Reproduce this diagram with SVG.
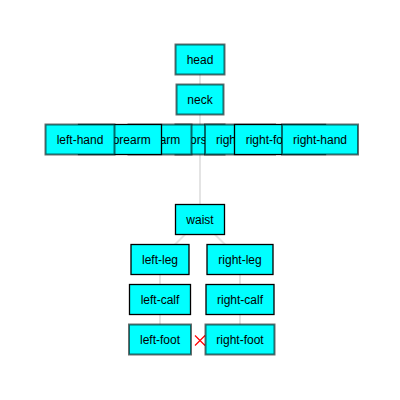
<svg xmlns="http://www.w3.org/2000/svg" width="400" height="400" viewBox="0 0 400 400">
<style>
.bg{fill:#fff}
.n rect{fill:#00ffff}
.g rect{stroke:rgba(0,0,0,0.58);stroke-width:2}
.k rect{stroke:#000;stroke-width:1.3}
.n text{font-family:"Liberation Sans",Arial,sans-serif;font-size:12px;fill:#000;text-anchor:middle}
.e{stroke:#e4e4e4;stroke-width:2;fill:none}
.x{stroke:#ff0000;stroke-width:1.2;fill:none}
</style>
<rect class="bg" x="0" y="0" width="400" height="400"/>
<g id="connectors">
<line class="e" x1="200" y1="59.5" x2="200" y2="99.5"/>
<line class="e" x1="200" y1="99.5" x2="200" y2="139.5"/>
<line class="e" x1="200" y1="139.5" x2="200" y2="219.5"/>
<line class="e" x1="200" y1="219.5" x2="160" y2="259.5"/>
<line class="e" x1="200" y1="219.5" x2="240" y2="259.5"/>
<line class="e" x1="160" y1="259.5" x2="160" y2="299.5"/>
<line class="e" x1="160" y1="299.5" x2="160" y2="339.5"/>
<line class="e" x1="240" y1="259.5" x2="240" y2="299.5"/>
<line class="e" x1="240" y1="299.5" x2="240" y2="339.5"/>
<path class="x" d="M195,335.5 L205,345.5 M195,345.5 L205,335.5"/>
</g>
<g id="head" class="n g"><rect x="175.5" y="44.5" width="49" height="30"/><text x="200" y="63.5">head</text></g>
<g id="neck" class="n g"><rect x="176.5" y="84.5" width="47" height="30"/><text x="200" y="103.5">neck</text></g>
<g id="torso" class="n g"><rect x="175.5" y="124.5" width="49" height="30"/><text x="200" y="143.5">torso</text></g>
<g id="left-arm" class="n g"><rect x="128.5" y="124.5" width="63" height="30"/><text x="160" y="143.5">left-arm</text></g>
<g id="right-arm" class="n g"><rect x="205" y="124.5" width="70" height="30"/><text x="240" y="143.5">right-arm</text></g>
<g id="left-forearm" class="n k"><rect x="78.5" y="124.5" width="83" height="30"/><text x="120" y="143.5">left-forearm</text></g>
<g id="right-forearm" class="n k"><rect x="234.5" y="124.5" width="91" height="30"/><text x="280" y="143.5">right-forearm</text></g>
<g id="left-hand" class="n g"><rect x="45.5" y="124.5" width="69" height="30"/><text x="80" y="143.5">left-hand</text></g>
<g id="right-hand" class="n g"><rect x="282" y="124.5" width="76" height="30"/><text x="320" y="143.5">right-hand</text></g>
<g id="waist" class="n k"><rect x="175.5" y="204.5" width="49" height="30"/><text x="200" y="223.5">waist</text></g>
<g id="left-leg" class="n k"><rect x="131" y="244.5" width="58" height="30"/><text x="160" y="263.5">left-leg</text></g>
<g id="right-leg" class="n k"><rect x="207" y="244.5" width="66" height="30"/><text x="240" y="263.5">right-leg</text></g>
<g id="left-calf" class="n k"><rect x="129.5" y="284.5" width="61" height="30"/><text x="160" y="303.5">left-calf</text></g>
<g id="right-calf" class="n k"><rect x="206" y="284.5" width="68" height="30"/><text x="240" y="303.5">right-calf</text></g>
<g id="left-foot" class="n g"><rect x="129" y="324.5" width="62" height="30"/><text x="160" y="343.5">left-foot</text></g>
<g id="right-foot" class="n g"><rect x="205.5" y="324.5" width="69" height="30"/><text x="240" y="343.5">right-foot</text></g>
</svg>
